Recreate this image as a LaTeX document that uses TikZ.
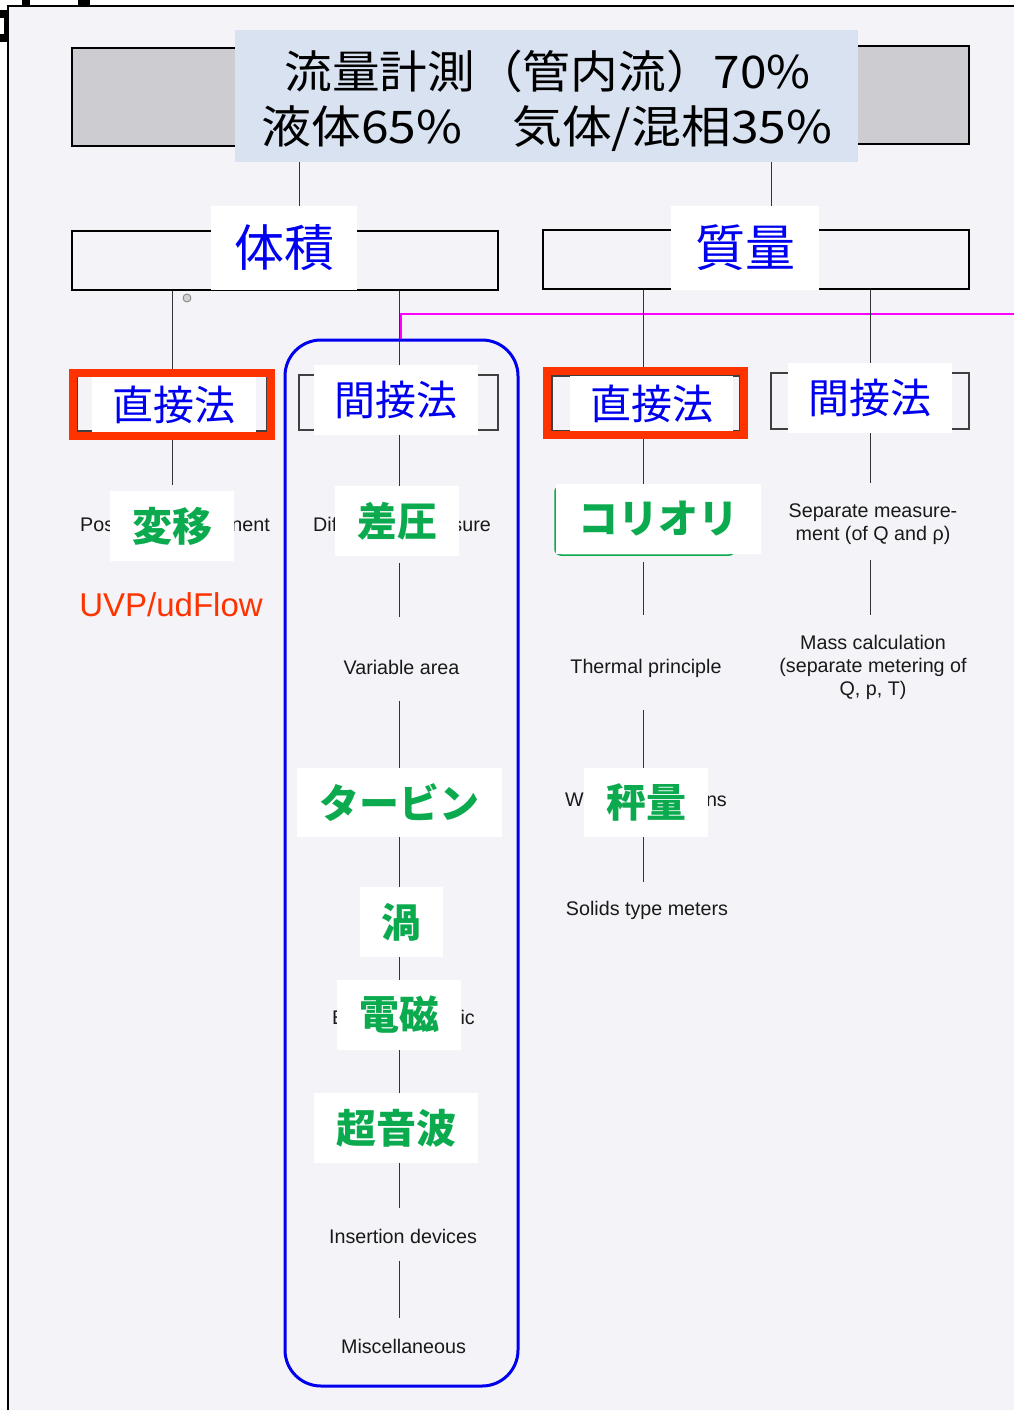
\documentclass[tikz,border=0pt]{standalone}
\usepackage{fontspec}
\setmainfont{Liberation Sans}
\newfontfamily\jp{Noto Sans CJK JP}
\definecolor{pagebg}{HTML}{F4F3F7}
\definecolor{hdrblue}{HTML}{D9E2F1}
\definecolor{grayfill}{HTML}{CDCDD1}
\definecolor{jblue}{HTML}{0000F0}
\definecolor{jgreen}{HTML}{0BAA4E}
\definecolor{redbox}{HTML}{FF3300}
\definecolor{rblue}{HTML}{0000EE}
\definecolor{mag}{HTML}{FF00FF}
\tikzset{
 hatchbox/.style={draw=black, line width=2.2pt, fill=grayfill, inner sep=0pt},
 catbox/.style={draw=black, line width=2pt, inner sep=0pt},
 subbox/.style={draw=black!75, line width=1.3pt, inner sep=0pt},
 lab/.style={fill=white, inner sep=0pt, text=jblue, font=\jp\fontsize{41}{41}\selectfont},
 biglab/.style={fill=white, inner sep=0pt, text=jblue, font=\jp\fontsize{50}{50}\selectfont},
 glab/.style={fill=white, inner sep=0pt, text=jgreen, font=\jp\bfseries\fontsize{40}{40}\selectfont},
 redframe/.style={draw=redbox, line width=8pt, inner sep=0pt},
 conn/.style={draw=black!80, line width=0.9pt},
 en/.style={font=\fontsize{19.7}{23}\selectfont, inner sep=0pt, anchor=base, text=black!90},
 hdrtxt/.style={font=\jp\fontsize{45}{45}\selectfont, inner sep=0pt, anchor=base, text=black},
}
\begin{document}
\begin{tikzpicture}[x=1pt,y=-1pt]
\useasboundingbox (0,0) rectangle (1014,1410);
\fill[white] (0,0) rectangle (1014,1410);
\fill[pagebg] (8,6) rectangle (1014,1410);
\draw[line width=2pt] (8,1410) -- (8,6) -- (1014,6);
\fill[black] (0,10) rectangle (8,42);
\fill[white] (0,18) rectangle (4,34);
\fill[black] (22,0) rectangle (30,6);
\fill[black] (78,0) rectangle (90,6);

% column guides
\coordinate (cA) at (172,0);
\coordinate (cB) at (399,0);
\coordinate (cC) at (643,0);
\coordinate (cD) at (870,0);
\coordinate (cL) at (299,0);
\coordinate (cR) at (771,0);
\coordinate (cM) at (401,0);
\coordinate (mg) at (1014,314);

% gray boxes behind header
\node[hatchbox, minimum width=228pt, minimum height=98pt] (gl) at (186,97) {};
\node[hatchbox, minimum width=179pt, minimum height=98pt] (gr) at (879.5,95) {};

% header
\node[fill=hdrblue, inner sep=0pt, minimum width=623pt, minimum height=132pt] (hdr) at (546.5,96) {};
\node[hdrtxt] (h1) at (547.5,89) {\scalebox{1.06}[1]{流量計測（管内流）70\%}};
\node[hdrtxt] (h2) at (547,143) {\scalebox{1.107}[1]{液体65\%　気体/混相35\%}};

% level 2 boxes
\node[catbox, minimum width=426pt, minimum height=59pt] (volbox) at (285,260.5) {};
\node[catbox, minimum width=426pt, minimum height=59pt] (massbox) at (756,259.5) {};

\node[circle, draw=gray, fill=gray!35, line width=0.8pt, minimum size=8pt, inner sep=0pt] (hole) at (187,298) {};

% level 3 boxes (black outlines)
\node[subbox, minimum width=190pt, minimum height=55pt] (ldbox) at (172,403.5) {};
\node[subbox, minimum width=199pt, minimum height=55pt] (libox) at (398.5,402.5) {};
\node[subbox, minimum width=188pt, minimum height=55pt] (rdbox) at (646,403.5) {};
\node[subbox, minimum width=198pt, minimum height=56pt] (ribox) at (870,401) {};

% group frame
\node[draw=rblue, line width=3pt, rounded corners=36pt, minimum width=233pt, minimum height=1046pt, inner sep=0pt] (grp) at (401.5,863) {};
\draw[mag, line width=1.5pt] (mg) -| (grp.north -| cM);

% English texts (visible parts only where covered by labels)
\node[en, anchor=base west] (pdL) at (80,531) {Pos};
\node[en, anchor=base east] (pdR) at (270,531) {nent};
\node[en, anchor=base west] (dpL) at (313,531) {Dif};
\node[en, anchor=base east] (dpR) at (491,531) {sure};
\node[en] (va) at (401.5,674) {Variable area};
\node[en, anchor=base west] (emL) at (332,1024) {E};
\node[en, anchor=base east] (emR) at (475,1024) {ic};
\node[en] (ins) at (403,1243) {Insertion devices};
\node[en] (misc) at (403.5,1353) {Miscellaneous};
\node[en] (th) at (646,673) {Thermal principle};
\node[en, anchor=base west] (wgL) at (565,806) {W};
\node[en, anchor=base east] (wgR) at (727,806) {ns};
\node[en] (sol) at (647,915) {Solids type meters};
\node[en] (sep1) at (873,517) {Separate measure-};
\node[en] (sep2) at (873,540) {ment (of Q and ρ)};
\node[en] (mc1) at (873,649) {Mass calculation};
\node[en] (mc2) at (873,672) {(separate metering of};
\node[en] (mc3) at (873,695) {Q, p, T)};
\node[font=\fontsize{33}{34}\selectfont, text=redbox, inner sep=0pt, anchor=base] (uvp) at (171,616) {UVP/udFlow};

% labels
\node[biglab, minimum width=146pt, minimum height=84pt] (vol) at (284,248) {体積};
\node[biglab, minimum width=148pt, minimum height=84pt] (mass) at (745,248) {質量};
\node[lab, minimum width=164pt, minimum height=55pt] (ldlab) at (174,404.5) {直接法};
\node[lab, minimum width=164pt, minimum height=70pt] (lilab) at (396,400) {間接法};
\node[lab, minimum width=163pt, minimum height=55pt] (rdlab) at (651.5,403.5) {直接法};
\node[lab, minimum width=164pt, minimum height=70pt] (rilab) at (870,398) {間接法};
\node[redframe, minimum width=198pt, minimum height=63.5pt] (ld) at (172,404.25) {};
\node[redframe, minimum width=197.4pt, minimum height=64pt] (rd) at (645.5,403) {};

\node[draw=jgreen, line width=1.5pt, rounded corners=6pt, minimum width=180pt, minimum height=69pt, inner sep=0pt] (coframe) at (645,520.5) {};
\node[glab, minimum width=124pt, minimum height=70pt] (pdlab) at (172,526) {変移};
\node[glab, minimum width=124pt, minimum height=70pt] (dplab) at (397,521) {差圧};
\node[glab, minimum width=205pt, minimum height=70pt] (colab) at (658.5,519) {コリオリ};
\node[glab, minimum width=205pt, minimum height=69pt] (tblab) at (399.5,802.5) {タービン};
\node[glab, minimum width=83pt, minimum height=70pt] (vxlab) at (401.5,922) {渦};
\node[glab, minimum width=124pt, minimum height=70pt] (emlab) at (399,1015) {電磁};
\node[glab, minimum width=164pt, minimum height=70pt] (uslab) at (396,1128) {超音波};
\node[glab, minimum width=124pt, minimum height=69pt] (wglab) at (646,802.5) {秤量};

% connectors
\draw[conn] (hdr.south -| cL) -- (vol.north -| cL);
\draw[conn] (hdr.south -| cR) -- (mass.north -| cR);
\draw[conn] (volbox.south -| cA) -- (ld.north -| cA);
\draw[conn, shorten >=6pt] (ld.south -| cA) -- (pdlab.north -| cA);
\draw[conn] (volbox.south -| cB) -- (lilab.north -| cB);
\draw[conn] (lilab.south -| cB) -- (dplab.north -| cB);
\draw[conn, shorten <=7pt, shorten >=43pt] (dplab.south -| cB) -- (va.north -| cB);
\draw[conn, shorten <=27pt] (va.south -| cB) -- (tblab.north -| cB);
\draw[conn] (tblab.south -| cB) -- (vxlab.north -| cB);
\draw[conn] (vxlab.south -| cB) -- (emlab.north -| cB);
\draw[conn] (emlab.south -| cB) -- (uslab.north -| cB);
\draw[conn, shorten >=21pt] (uslab.south -| cB) -- (ins.north -| cB);
\draw[conn, shorten <=18pt, shorten >=21pt] (ins.south -| cB) -- (misc.north -| cB);
\draw[conn] (massbox.south -| cC) -- (rd.north -| cC);
\draw[conn] (rd.south -| cC) -- (colab.north -| cC);
\draw[conn, shorten <=8pt, shorten >=44pt] (colab.south -| cC) -- (th.north -| cC);
\draw[conn, shorten <=33pt] (th.south -| cC) -- (wglab.north -| cC);
\draw[conn, shorten >=19pt] (wglab.south -| cC) -- (sol.north -| cC);
\draw[conn] (massbox.south -| cD) -- (rilab.north -| cD);
\draw[conn, shorten >=20pt] (rilab.south -| cD) -- (sep1.north -| cD);
\draw[conn, shorten <=16pt, shorten >=20pt] (sep2.south -| cD) -- (mc1.north -| cD);
\end{tikzpicture}
\end{document}
